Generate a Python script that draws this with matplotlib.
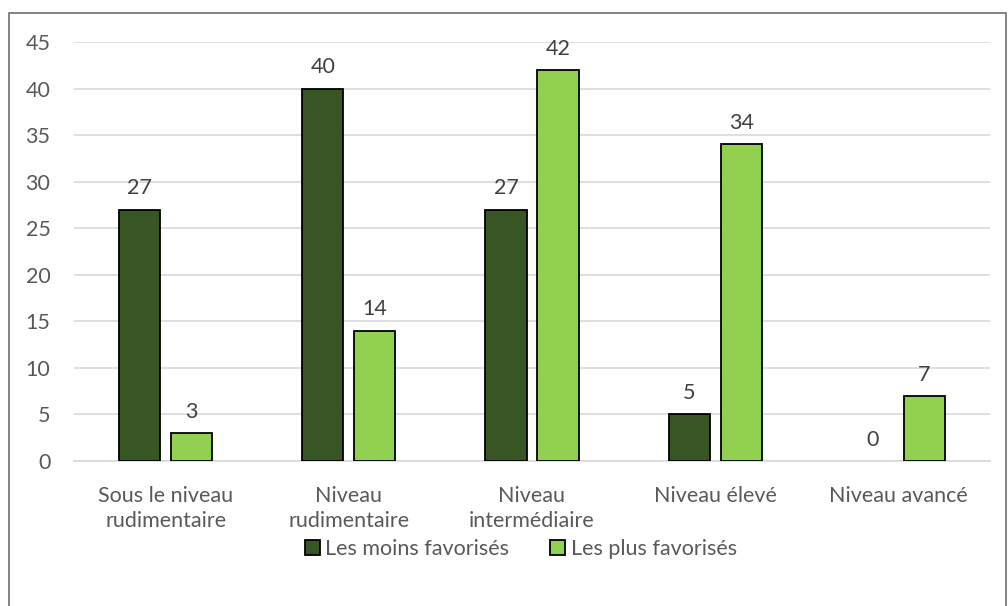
import matplotlib
matplotlib.use("Agg")
import matplotlib.pyplot as plt
from matplotlib.patches import Rectangle
import numpy as np

categories = ["Sous le niveau\nrudimentaire", "Niveau\nrudimentaire", "Niveau\nintermédiaire",
              "Niveau élevé", "Niveau avancé"]
moins_favorises = [27, 40, 27, 5, 0]
plus_favorises = [3, 14, 42, 34, 7]
series_names = ["Les moins favorisés", "Les plus favorisés"]
yticks = [0, 5, 10, 15, 20, 25, 30, 35, 40, 45]

plt.rcParams['font.family'] = ['Lato', 'DejaVu Sans']

W, H = 1008, 606
fig = plt.figure(figsize=(W / 100, H / 100), dpi=100)
ax = fig.add_axes([74 / W, 1 - 461 / H, (990 - 74) / W, (461 - 42) / H])

FS = 15.5
x = np.arange(len(categories))
bw = 0.224
off = 0.142
colors = ["#375623", "#92D050"]
for vals, dx, c, name in zip([moins_favorises, plus_favorises], [-off, off], colors, series_names):
    bars = ax.bar(x + dx, vals, width=bw, color=c, edgecolor="black", linewidth=1.3,
                  label=name, zorder=3)
    for b, v in zip(bars, vals):
        if v == 0:
            b.set_linewidth(0)
        ax.text(b.get_x() + b.get_width() / 2, v + 1.2, f"{v}", ha="center", va="bottom",
                fontsize=FS, color="#404040")

ax.set_xlim(-0.5, len(categories) - 0.5)
ax.set_ylim(0, 45)
ax.set_yticks(yticks)
ax.set_xticks(x)
ax.set_xticklabels(categories, linespacing=1.3)
ax.grid(axis="y", color="#D9D9D9", linewidth=1.2, zorder=0)
for s in ["top", "right", "left"]:
    ax.spines[s].set_visible(False)
ax.spines["bottom"].set_color("#D9D9D9")
ax.spines["bottom"].set_linewidth(1.2)
ax.tick_params(axis="both", length=0, labelsize=FS, colors="#595959")
ax.tick_params(axis="y", pad=17)
ax.tick_params(axis="x", pad=18)

leg = fig.legend(loc="center", bbox_to_anchor=(521 / W, 1 - 549 / H), ncol=2, frameon=False,
                 fontsize=FS, handlelength=0.7, handleheight=0.7, handletextpad=0.25,
                 columnspacing=1.9)
for t in leg.get_texts():
    t.set_color("#595959")

fig.patches.append(Rectangle((9 / W, -0.05), (1006 - 9) / W, 1 - 13 / H + 0.05,
                             transform=fig.transFigure, fill=False,
                             edgecolor="#707070", linewidth=1.2))

fig.savefig("out.png", dpi=100)
